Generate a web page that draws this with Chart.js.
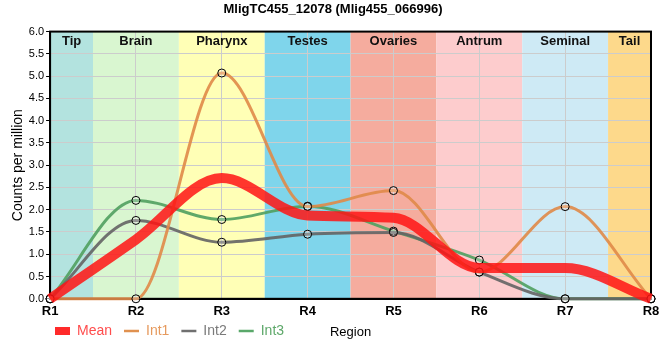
<!DOCTYPE html>
<html><head><meta charset="utf-8">
<script src="https://cdn.jsdelivr.net/npm/chart.js@4"></script>
<style>html,body{margin:0;padding:0;background:#fff}#wrap{width:660px;height:360px}</style>
</head><body><div id="wrap"><canvas id="c" width="660" height="360"></canvas></div>
<script>
const categories = ['R1','R2','R3','R4','R5','R6','R7','R8'];
const meanValues = [0, 1.33, 2.71, 1.87, 1.82, 0.69, 0.69, 0];
const int1Values = [0, 0, 5.07, 2.07, 2.43, 0.60, 2.07, 0];
const int2Values = [0, 1.76, 1.27, 1.45, 1.49, 0.60, 0, 0];
const int3Values = [0, 2.21, 1.78, 2.08, 1.52, 0.87, 0, 0];
const regionNames = ['Tip','Brain','Pharynx','Testes','Ovaries','Antrum','Seminal','Tail'];
const regionStart = [0, 0.5, 1.5, 2.5, 3.5, 4.5, 5.5, 6.5];
const regionEnd   = [0.5, 1.5, 2.5, 3.5, 4.5, 5.5, 6.5, 7];
const regionColors = ['#b3e3df','#d9f6d0','#ffffb6','#7fd5eb','#f5ac9e','#fdcccd','#ceeaf5','#fdd98b'];
const titleText = 'MligTC455_12078 (Mlig455_066996)';
const seriesLabels = ['Mean','Int1','Int2','Int3'];
const seriesColors = ['rgba(255,20,20,0.85)','rgba(224,138,72,0.9)','rgba(100,100,100,0.9)','rgba(80,160,95,0.9)'];
const legendTextColors = ['#ff4d4d','#e69a5e','#7a7a7a','#5ea86a'];
const legendLineColors = ['#ff2a2a','#e0914f','#707070','#5aa86a'];
const legendLineWidths = [8, 2.5, 2.5, 2.5];

const FONT = "'Liberation Sans', Arial, sans-serif";
const LEGEND_FONT = 14, LEGEND_PAD = 12;

const regionPlugin = {
  id: 'regions',
  beforeDraw(chart) {
    const {ctx, chartArea: a, scales: {x}} = chart;
    ctx.save();
    regionNames.forEach((n, i) => {
      const x0 = x.getPixelForValue(regionStart[i]);
      const x1 = x.getPixelForValue(regionEnd[i]);
      ctx.fillStyle = regionColors[i];
      ctx.fillRect(x0, a.top, x1 - x0, a.bottom - a.top);
    });
    ctx.restore();
  },
  beforeDatasetsDraw(chart) {
    const {ctx, chartArea: a, scales: {x}} = chart;
    ctx.save();
    ctx.font = 'bold 13px ' + FONT;
    ctx.fillStyle = '#111';
    ctx.textAlign = 'center';
    ctx.textBaseline = 'middle';
    regionNames.forEach((n, i) => {
      const x0 = x.getPixelForValue(regionStart[i]);
      const x1 = x.getPixelForValue(regionEnd[i]);
      ctx.fillText(n, (x0 + x1) / 2, a.top + 10);
    });
    ctx.strokeStyle = '#000';
    ctx.lineWidth = 2;
    ctx.strokeRect(a.left, a.top, a.right - a.left, a.bottom - a.top);
    ctx.restore();
  },
  afterLayout(chart) {
    const lg = chart.legend;
    if (!lg) return;
    const h = lg.height, w = lg.width;
    lg.top = 331 - LEGEND_PAD - LEGEND_FONT / 2;
    lg.bottom = lg.top + h;
    lg.left = 43;
    lg.right = lg.left + w;
  }
};

new Chart(document.getElementById('c'), {
  type: 'line',
  data: {
    labels: categories,
    datasets: [
      {label: seriesLabels[0], data: meanValues, borderColor: seriesColors[0], backgroundColor: seriesColors[0], borderWidth: 10, pointRadius: 0, cubicInterpolationMode: 'monotone'},
      {label: seriesLabels[1], data: int1Values, borderColor: seriesColors[1], backgroundColor: seriesColors[1], borderWidth: 3, pointRadius: 4, pointBorderColor: '#000', pointBackgroundColor: 'rgba(255,255,255,0.25)', pointBorderWidth: 1, cubicInterpolationMode: 'monotone'},
      {label: seriesLabels[2], data: int2Values, borderColor: seriesColors[2], backgroundColor: seriesColors[2], borderWidth: 3, pointRadius: 4, pointBorderColor: '#000', pointBackgroundColor: 'rgba(255,255,255,0.25)', pointBorderWidth: 1, cubicInterpolationMode: 'monotone'},
      {label: seriesLabels[3], data: int3Values, borderColor: seriesColors[3], backgroundColor: seriesColors[3], borderWidth: 3, pointRadius: 4, pointBorderColor: '#000', pointBackgroundColor: 'rgba(255,255,255,0.25)', pointBorderWidth: 1, cubicInterpolationMode: 'monotone'}
    ]
  },
  options: {
    responsive: false,
    animation: false,
    events: [],
    clip: false,
    layout: {padding: {left: 6, right: 0, top: 0, bottom: -18}},
    plugins: {
      title: {display: true, text: titleText, color: '#000', font: {family: FONT, size: 13, weight: 'bold'}, padding: {top: 2, bottom: 14}},
      tooltip: {enabled: false},
      legend: {
        position: 'bottom', align: 'start',
        labels: {
          usePointStyle: true, pointStyle: 'line', pointStyleWidth: 15, padding: LEGEND_PAD,
          font: {family: FONT, size: LEGEND_FONT},
          generateLabels(chart) {
            const items = Chart.defaults.plugins.legend.labels.generateLabels(chart);
            items.forEach((it, i) => {
              it.fontColor = legendTextColors[i];
              it.strokeStyle = legendLineColors[i];
              it.fillStyle = legendLineColors[i];
              it.lineWidth = legendLineWidths[i];
            });
            return items;
          }
        }
      }
    },
    scales: {
      x: {
        type: 'category', offset: false,
        grid: {color: '#cccccc', drawTicks: false},
        border: {color: '#000', width: 2},
        ticks: {color: '#000', font: {family: FONT, size: 13, weight: 'bold'}, padding: 5},
        title: {display: true, text: 'Region', color: '#000', font: {family: FONT, size: 13}, padding: {top: 0, bottom: 2}},
        afterFit(scale) { scale.paddingRight = 9; }
      },
      y: {
        min: 0, max: 6,
        grid: {color: '#cccccc', tickColor: '#000', tickLength: 4},
        border: {color: '#000', width: 2},
        ticks: {stepSize: 0.5, color: '#000', font: {family: FONT, size: 11}, padding: 2, callback: v => Number(v).toFixed(1)},
        title: {display: true, text: 'Counts per million', color: '#000', font: {family: FONT, size: 14}, padding: {top: 4, bottom: 0}}
      }
    }
  },
  plugins: [regionPlugin]
});
</script>
</body></html>
